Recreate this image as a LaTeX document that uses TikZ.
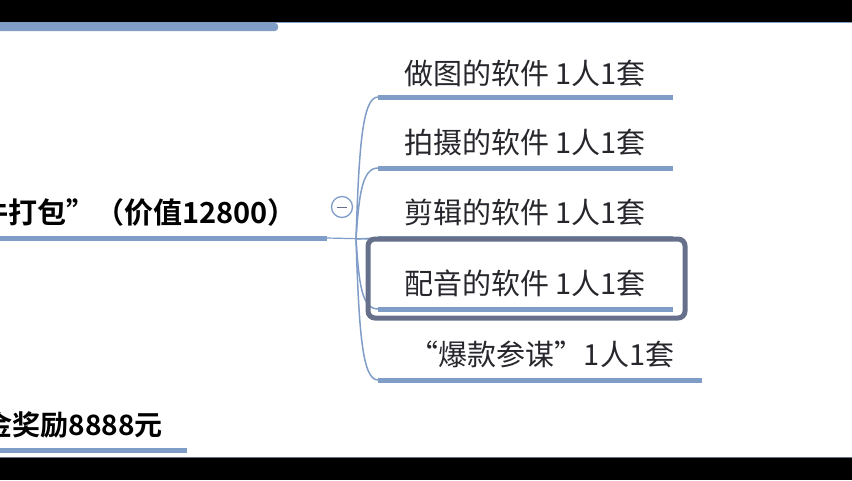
\documentclass[tikz,border=0pt]{standalone}
\usepackage{fontspec}
\setmainfont{Noto Sans CJK SC}[BoldFont={Noto Sans CJK SC Bold}]
\usetikzlibrary{positioning}
\definecolor{mapblue}{RGB}{127,157,198}
\definecolor{selgray}{RGB}{102,112,138}
\definecolor{leafink}{RGB}{38,38,44}

\begin{document}
\begin{tikzpicture}[x=1pt, y=-1pt,
    leaf/.style={font=\fontsize{29}{29}\selectfont, text=leafink, inner sep=0pt},
    root/.style={font=\fontsize{29}{29}\selectfont\bfseries, inner sep=0pt},
    bar/.style={mapblue, line width=5pt},
    branch/.style={mapblue, line width=1.5pt}
]
\useasboundingbox (0,0) rectangle (852,480);
\clip (0,0) rectangle (852,480);
\fill[black] (0,0) rectangle (852,22);
\fill[black] (0,457) rectangle (852,480);
\draw[mapblue, line width=1pt] (0,22.5) -- (852,22.5);
\draw[selgray, line width=0.8pt] (0,457) -- (852,457);
\fill[mapblue, rounded corners=3pt] (-6,23) rectangle (278,31);

% root topic
\node[root, anchor=east] (root) at (297,212) {件打包”（价值12800）};
\coordinate (rootend) at (327,238);
\coordinate (hub) at (356,239);
\draw[bar] (0,238) -- (rootend);
\draw[mapblue, line width=1.2pt] (rootend) -- (370,239);

% branch starts
\coordinate (s1) at (378,97);
\coordinate (s2) at (378,168);
\coordinate (s3) at (378,238);
\coordinate (s4) at (378,309);
\coordinate (s5) at (378,380);

\draw[branch] (hub) .. controls (359,150) and (362,97) .. (s1);
\draw[branch] (hub) .. controls (359,195) and (362,168) .. (s2);
\draw[branch] (hub) -- (s3);
\draw[branch] (hub) .. controls (359,285) and (362,309) .. (s4);
\draw[branch] (hub) .. controls (359,330) and (362,380) .. (s5);

\draw[bar] (s1) -- ++(295,0);
\draw[bar] (s2) -- ++(295,0);
\draw[bar] (s3) -- ++(295,0);
\draw[bar] (s4) -- ++(295,0);
\draw[bar] (s5) -- ++(324,0);

% collapse button
\node[draw=mapblue, fill=white, circle, line width=1.3pt, minimum size=21pt, inner sep=0pt] (fold) at (342,207) {};
\draw[selgray, line width=1pt] ([xshift=-5pt]fold.center) -- ([xshift=5pt]fold.center);

% selected topic frame
\draw[selgray, line width=5pt, rounded corners=7pt] (368,239) rectangle (685,318);

\node[leaf] (c1) at (525,73) {做图的软件 1人1套};
\node[leaf] (c2) at (525,142) {拍摄的软件 1人1套};
\node[leaf] (c3) at (525,212) {剪辑的软件 1人1套};
\node[leaf] (c4) at (525,283) {配音的软件 1人1套};
\node[leaf] (c5) at (542,354) {“爆款参谋”1人1套};

% lower topic
\node[root, font=\fontsize{28}{28}\selectfont\bfseries, anchor=east] (prize) at (163,425) {金奖励8888元};
\draw[bar] (0,450) -- (187,450);
\end{tikzpicture}
\end{document}
